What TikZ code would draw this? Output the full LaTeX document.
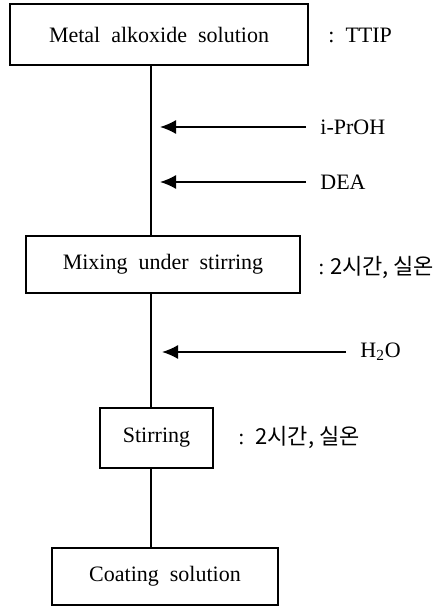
\documentclass[tikz,border=0pt]{standalone}
\usepackage{fontspec}
\setmainfont{Liberation Serif}
\newfontfamily\kfont{Noto Sans CJK KR}
\usetikzlibrary{arrows.meta, positioning}
\tikzset{box/.style={rectangle,draw,line width=1pt,align=center,inner sep=3pt,font=\fontsize{11}{13}\selectfont},
  note/.style={anchor=west,inner sep=0pt,font=\fontsize{11}{13}\selectfont},
  line/.style={-{Latex[length=8pt,width=7pt]},line width=0.8pt},
  spine/.style={line width=1pt}}

\begin{document}
\begin{tikzpicture}[x=0.5pt,y=-0.5pt]
\useasboundingbox (0,0) rectangle (447,615);
\node[box, minimum width=149pt, minimum height=30.5pt] (alkox) at (159,34.5) {Metal\ \ alkoxide\ \ solution};
\node[box, minimum width=137pt, minimum height=28.5pt] (mixing) at (163,264.5) {Mixing\ \ under\ \ stirring};
\node[box, minimum width=56.5pt, minimum height=30pt] (stir) at (156.5,438) {Stirring};
\node[box, minimum width=113pt, minimum height=28.5pt] (coat) at (165,576.5) {Coating\ \ solution};
\coordinate (axis) at (151,0);
% side notes
\node[note] (ttip) at (328,35) {:\ \ TTIP};
\node[note] (ipa) at (320,127) {i-PrOH};
\node[note] (dea) at (320,182) {DEA};
\node[note] (cond1) at (318,267) {:\ {\kfont 2시간,\ 실온}};
\node[note] (water) at (360,352) {H\textsubscript{2}O};
\node[note] (cond2) at (238,437) {:\ \ {\kfont 2시간,\ 실온}};
\coordinate (tipa) at (160,127);
\coordinate (tipb) at (160,182);
\coordinate (tipc) at (162,352);
% main flow
\draw[spine] (alkox.south -| axis) -- (mixing.north -| axis);
\draw[spine] (mixing.south -| axis) -- (stir.north -| axis);
\draw[spine] (stir.south -| axis) -- (coat.north -| axis);
% additions
\draw[line] ([xshift=-7pt]ipa.west) -- (tipa);
\draw[line] ([xshift=-7pt]dea.west) -- (tipb);
\draw[line] ([xshift=-7pt]water.west) -- (tipc);
\end{tikzpicture}
\end{document}
